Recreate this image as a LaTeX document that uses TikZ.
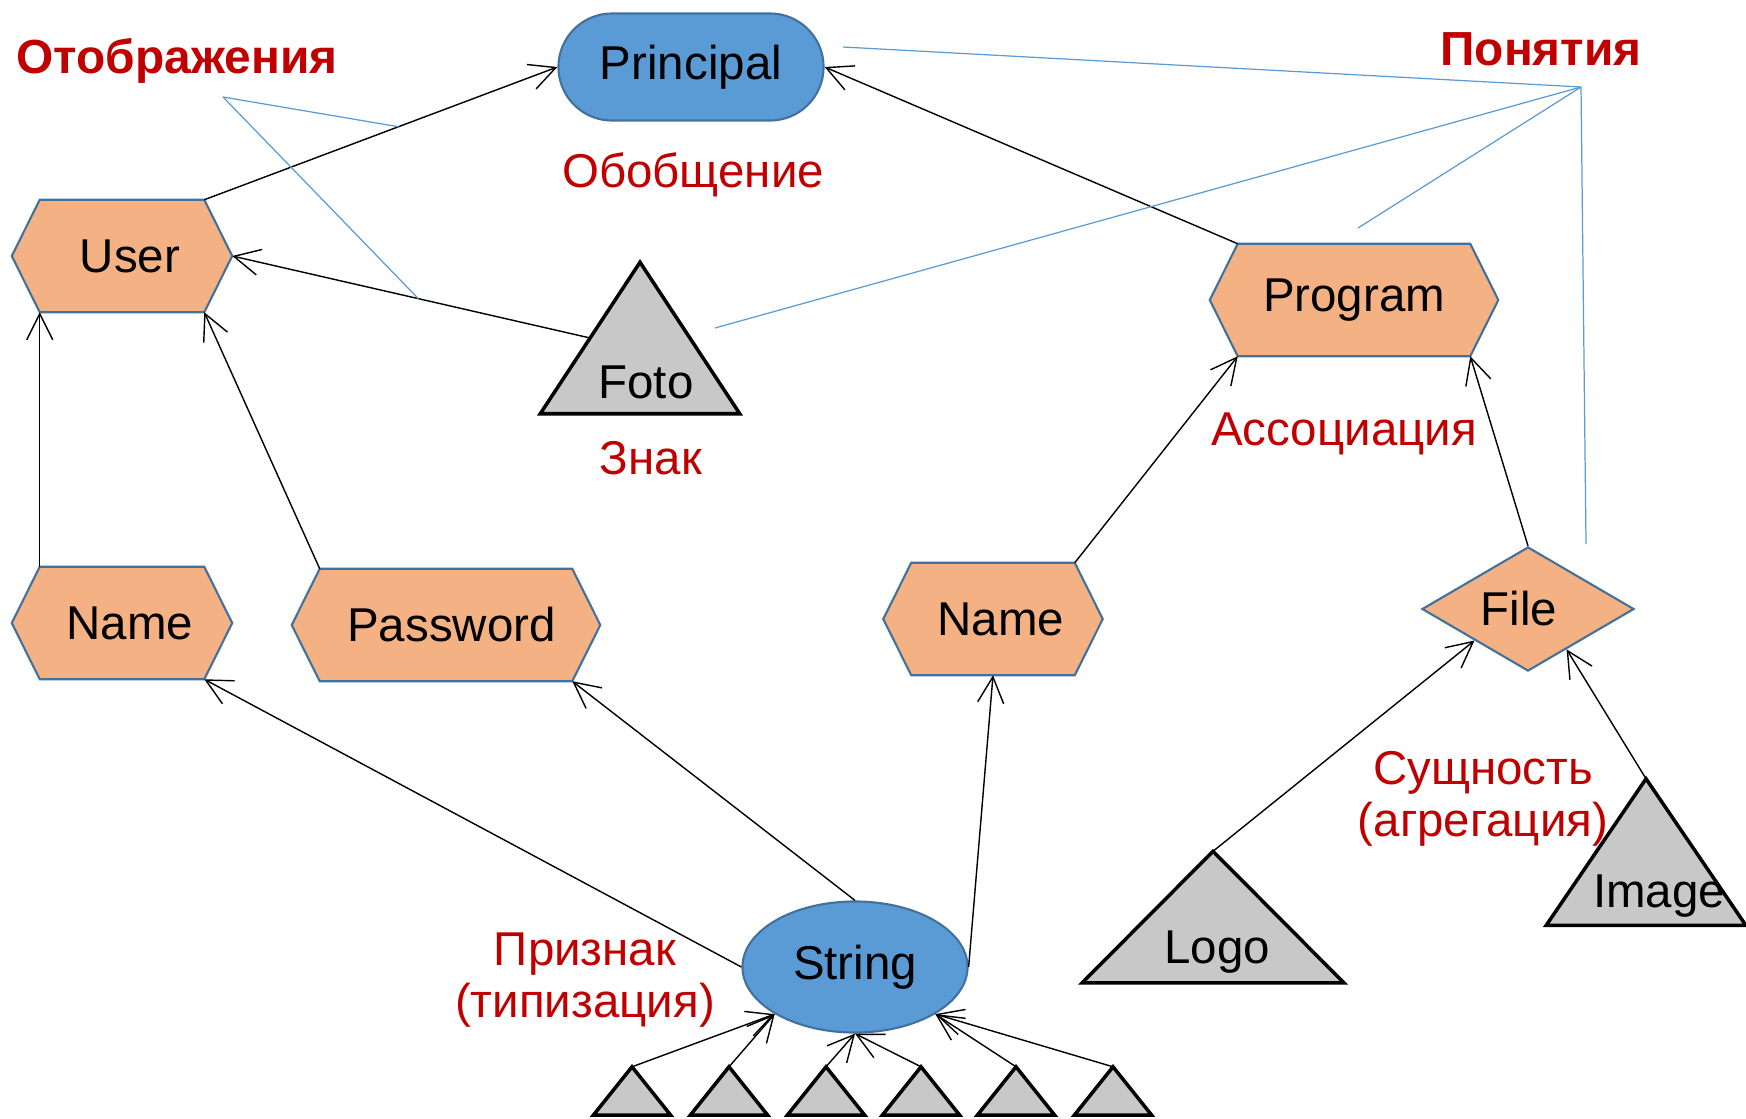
\documentclass[tikz,border=0pt]{standalone}
\usepackage{fontspec}
\setmainfont{Liberation Sans}
\usetikzlibrary{shapes.geometric,shapes.misc,arrows.meta,backgrounds,calc}

\definecolor{boxblue}{HTML}{5B9BD5}
\definecolor{edgeblue}{HTML}{41719C}
\definecolor{boxorange}{HTML}{F4B183}
\definecolor{trigray}{HTML}{C8C8C8}
\definecolor{darkred}{HTML}{C00000}

% corner cut of the hexagons
\newcommand{\hexcut}{0.28cm}
% outline of a hexagon round a plain node
\newcommand{\drawhex}[1]{\filldraw[hexfill] (#1.west) -- ([xshift=\hexcut]#1.north west) -- ([xshift=-\hexcut]#1.north east) -- (#1.east) -- ([xshift=-\hexcut]#1.south east) -- ([xshift=\hexcut]#1.south west) -- cycle;}
% outline of a triangle round a plain node
\newcommand{\drawtri}[1]{\filldraw[trifill] (#1.south west) -- (#1.north) -- (#1.south east) -- cycle;}

\begin{document}
\begin{tikzpicture}[x=0.01cm, y=-0.01cm,
    every node/.style={font=\fontsize{13.5}{15}\selectfont},
    hexnode/.style={rectangle, inner sep=0pt, minimum height=1.11cm},
    hexfill/.style={fill=boxorange, draw=edgeblue, line width=0.6pt},
    trinode/.style={rectangle, inner sep=0pt},
    trifill/.style={fill=trigray, draw=black, line width=1pt},
    link/.style={-{Straight Barb[length=7.4pt,width=7.4pt]}, line width=0.4pt},
    note/.style={boxblue, line width=0.35pt},
    tag/.style={text=darkred, align=center, font=\fontsize{13.5}{14.8}\selectfont},
    title/.style={text=darkred, font=\fontsize{13.6}{15}\selectfont\bfseries}]
  \useasboundingbox (0,0) rectangle (1746,1118);

  % Concepts
  \node[rounded rectangle, fill=boxblue, draw=edgeblue, line width=0.6pt,
    minimum width=2.65cm, minimum height=1.07cm, inner sep=0pt] (principal) at (691,67) {Principal};
  \node[hexnode, minimum width=2.19cm] (user) at (122,256) {\hspace*{0.16cm}User};
  \node[hexnode, minimum width=2.19cm] (name1) at (122,623) {\hspace*{0.16cm}Name};
  \node[hexnode, minimum width=3.07cm] (pwd) at (446,625) {\hspace*{0.11cm}Password};
  \node[hexnode, minimum width=2.18cm] (name2) at (993,619) {\hspace*{0.16cm}Name};
  \node[hexnode, minimum width=2.87cm] (prog) at (1354,300) {Program};
  \node[diamond, aspect=1.7, fill=boxorange, draw=edgeblue, line width=0.6pt,
    minimum width=2.12cm, minimum height=1.24cm, inner sep=0pt] (file) at (1528,609) {File\hspace*{0.18cm}};
  \node[ellipse, fill=boxblue, draw=edgeblue, line width=0.6pt,
    minimum width=2.25cm, minimum height=1.31cm, inner sep=0pt] (string) at (855,967) {String};

  % Signs
  \node[trinode, minimum width=1.98cm, text height=1.35cm, text depth=0.15cm] (foto) at (640,338) {\hspace*{0.12cm}Foto};
  \node[trinode, minimum width=2.60cm, text height=1.11cm, text depth=0.19cm] (logo) at (1213,917) {\hspace*{0.08cm}Logo};
  \node[trinode, minimum width=1.98cm, text height=1.28cm, text depth=0.17cm] (image) at (1646,852) {\hspace*{0.26cm}Image};
  \node[trinode, minimum width=0.76cm, minimum height=0.47cm] (s1) at (632,1091) {};
  \node[trinode, minimum width=0.76cm, minimum height=0.47cm] (s2) at (729,1091) {};
  \node[trinode, minimum width=0.76cm, minimum height=0.47cm] (s3) at (826,1091) {};
  \node[trinode, minimum width=0.76cm, minimum height=0.47cm] (s4) at (921,1091) {};
  \node[trinode, minimum width=0.76cm, minimum height=0.47cm] (s5) at (1016,1091) {};
  \node[trinode, minimum width=0.76cm, minimum height=0.47cm] (s6) at (1113,1091) {};

  \begin{scope}[on background layer]
    \drawhex{user}
    \drawhex{name1}
    \drawhex{pwd}
    \drawhex{name2}
    \drawhex{prog}
    \drawtri{foto}
    \drawtri{logo}
    \drawtri{image}
    \drawtri{s1}
    \drawtri{s2}
    \drawtri{s3}
    \drawtri{s4}
    \drawtri{s5}
    \drawtri{s6}
  \end{scope}

  % Generalisation
  \draw[link] ([xshift=-\hexcut]user.north east) -- (principal.west);
  \draw[link] ([xshift=\hexcut]prog.north west) -- (principal.east);

  % Sign
  \draw[link] ($(foto.north)!0.5!(foto.south west)$) -- (user.east);

  % Attributes
  \draw[link] ([xshift=\hexcut]name1.north west) -- ([xshift=\hexcut]user.south west);
  \draw[link] ([xshift=\hexcut]pwd.north west) -- ([xshift=-\hexcut]user.south east);
  \draw[link] ([xshift=-\hexcut]name2.north east) -- ([xshift=\hexcut]prog.south west);
  \draw[link] (file.north) -- ([xshift=-\hexcut]prog.south east);

  % Typing
  \draw[link] (string.west) -- ([xshift=-\hexcut]name1.south east);
  \draw[link] (string.north) -- ([xshift=-\hexcut]pwd.south east);
  \draw[link] (string.east) -- (name2.south);
  \draw[link] (s1.north) -- (string.south west);
  \draw[link] (s2.north) -- (string.south west);
  \draw[link] (s3.north) -- (string.south);
  \draw[link] (s4.north) -- (string.south);
  \draw[link] (s5.north) -- (string.south east);
  \draw[link] (s6.north) -- (string.south east);

  % Aggregation
  \draw[link] (logo.north) -- (file.south west);
  \draw[link] (image.north) -- ($(file.south)!0.36!(file.east)$);

  % Labels
  \node[title] (otobr) at (177,61) {Отображения};
  \node[title] (ponyat) at (1541,49) {Понятия};
  \node[tag] (obobsh) at (693,175) {Обобщение};
  \node[tag] (znak) at (651,458) {Знак};
  \node[tag] (assoc) at (1344,434) {Ассоциация};
  \node[tag] (sushch) at (1483,799) {Сущность\\(агрегация)};
  \node[tag] (priznak) at (585,980) {Признак\\(типизация)};

  % Pointers from the titles
  \coordinate (otobr-c) at (223,97);
  \coordinate (ponyat-c) at (1581,87);
  \coordinate (o1) at ($([xshift=-\hexcut]user.north east)!0.55!(principal.west)$);
  \coordinate (o2) at ($($(foto.north)!0.5!(foto.south west)$)!0.48!(user.east)$);
  \coordinate (p1) at (843,47);
  \coordinate (p2) at (715,328);
  \coordinate (p3) at (1358,228);
  \coordinate (p4) at (1586,544);
  \draw[note] (otobr-c) -- (o1);
  \draw[note] (otobr-c) -- (o2);
  \draw[note] (ponyat-c) -- (p1);
  \draw[note] (ponyat-c) -- (p2);
  \draw[note] (ponyat-c) -- (p3);
  \draw[note] (ponyat-c) -- (p4);
\end{tikzpicture}
\end{document}
